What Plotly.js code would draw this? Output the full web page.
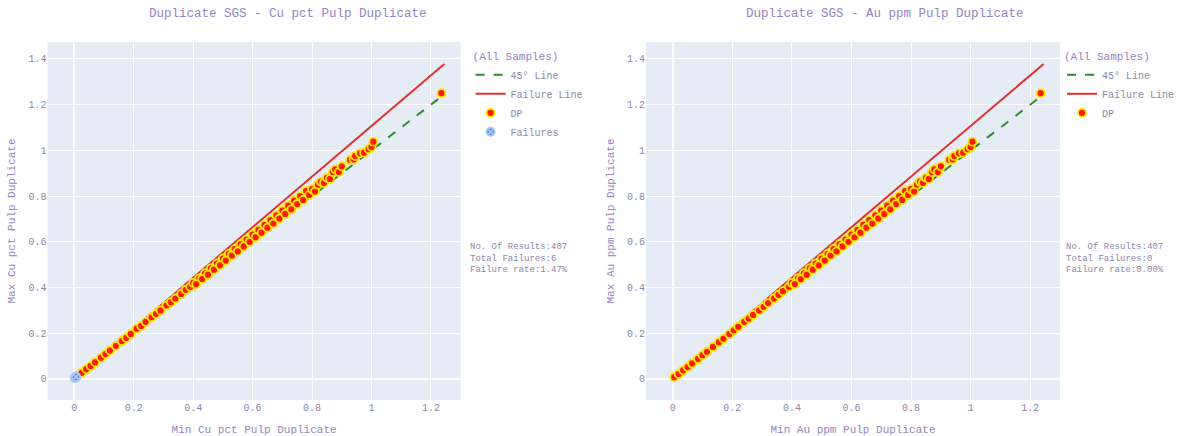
<!DOCTYPE html>
<html>
<head>
<meta charset="utf-8">
<script src="https://cdn.plot.ly/plotly-3.0.1.min.js"></script>
<style>html,body{margin:0;padding:0;background:#fff;}#chart{width:1180px;height:436px;}</style>
</head>
<body>
<div id="chart"></div>
<script>
// ---- Data ----
var cuMin = [0.01,0.025,0.04,0.055,0.07,0.09,0.105,0.12,0.14,0.16,0.175,0.19,0.21,0.225,0.24,0.26,0.275,0.29,0.31,0.325,0.34,0.36,0.375,0.39,
 0.40,0.42,0.44,0.46,0.48,0.50,0.52,0.54,0.56,0.58,0.60,0.62,0.64,0.66,0.68,0.70,0.72,0.74,0.76,0.78,
 0.41,0.43,0.45,0.47,0.49,0.51,0.53,0.55,0.57,0.59,0.61,0.63,0.65,0.67,0.69,0.71,0.73,0.75,0.77,0.79,
 0.80,0.81,0.82,0.83,0.84,0.85,0.86,0.87,0.878,0.89,0.90,0.928,0.94,0.945,0.961,0.975,0.99,1.0,1.006,1.235];
var cuMax = [0.013,0.027,0.043,0.057,0.073,0.093,0.109,0.124,0.145,0.166,0.18,0.197,0.22,0.232,0.25,0.27,0.285,0.3,0.322,0.336,0.352,0.372,0.39,0.403,
 0.42,0.44,0.462,0.484,0.505,0.526,0.547,0.568,0.59,0.61,0.632,0.652,0.674,0.695,0.716,0.737,0.758,0.78,0.80,0.822,
 0.415,0.437,0.456,0.478,0.497,0.518,0.54,0.558,0.58,0.60,0.62,0.64,0.662,0.68,0.702,0.722,0.742,0.765,0.783,0.805,
 0.83,0.82,0.85,0.863,0.858,0.88,0.875,0.905,0.917,0.905,0.93,0.958,0.96,0.975,0.987,0.99,1.005,1.015,1.038,1.25];
var cuFailMin = [0.002,0.003,0.004,0.005,0.002,0.006];
var cuFailMax = [0.005,0.008,0.006,0.01,0.004,0.009];
var auMin = [0.005,0.02,0.035,0.05,0.065,0.085,0.1,0.115,0.135,0.155,0.17,0.19,0.205,0.22,0.24,0.255,0.27,0.29,0.305,0.32,0.34,0.355,0.37,0.39,
 0.40,0.42,0.44,0.46,0.48,0.50,0.52,0.54,0.56,0.58,0.60,0.62,0.64,0.66,0.68,0.70,0.72,0.74,0.76,0.78,
 0.41,0.43,0.45,0.47,0.49,0.51,0.53,0.55,0.57,0.59,0.61,0.63,0.65,0.67,0.69,0.71,0.73,0.75,0.77,0.79,
 0.80,0.81,0.82,0.83,0.84,0.85,0.86,0.87,0.878,0.89,0.90,0.928,0.94,0.945,0.961,0.975,0.99,1.0,1.006,1.235];
var auMax = [0.008,0.022,0.038,0.052,0.068,0.088,0.104,0.119,0.14,0.161,0.176,0.197,0.213,0.228,0.25,0.265,0.28,0.3,0.316,0.332,0.352,0.368,0.384,0.403,
 0.42,0.44,0.462,0.484,0.505,0.526,0.547,0.568,0.59,0.61,0.632,0.652,0.674,0.695,0.716,0.737,0.758,0.78,0.80,0.822,
 0.415,0.437,0.456,0.478,0.497,0.518,0.54,0.558,0.58,0.60,0.62,0.64,0.662,0.68,0.702,0.722,0.742,0.765,0.783,0.805,
 0.83,0.82,0.85,0.863,0.858,0.88,0.875,0.905,0.917,0.905,0.93,0.958,0.96,0.975,0.987,0.99,1.005,1.015,1.038,1.25];
var lineX = [0, 1.245];
var line45Y = [0, 1.245];
var failLineY = [0, 1.378];
var tickVals = [0,0.2,0.4,0.6,0.8,1,1.2,1.4];
var tickText = ['0','0.2','0.4','0.6','0.8','1','1.2','1.4'];
var titles = ['Duplicate SGS - Cu pct Pulp Duplicate','Duplicate SGS - Au ppm Pulp Duplicate'];
var xTitles = ['Min Cu pct Pulp Duplicate','Min Au ppm Pulp Duplicate'];
var yTitles = ['Max Cu pct Pulp Duplicate','Max Au ppm Pulp Duplicate'];
var stats = ['No. Of Results:407<br>Total Failures:6<br>Failure rate:1.47%','No. Of Results:407<br>Total Failures:0<br>Failure rate:0.00%'];

// ---- Styling ----
var FONT = 'Liberation Mono, Courier New, monospace';
var PURPLE = '#9484c4';
var GREY = '#8c86a6';
var W = 1180, H = 436;
function px(x){return x/W;}
function py(y){return 1 - y/H;}

var dpMarker = {color:'#ff1a00', size:8, line:{color:'#ffe600', width:1.8}};
var failMarker = {color:'#3a6fd8', size:8, symbol:'circle-x', line:{color:'#a9c6f2', width:2}};

var traces = [
  {x:lineX, y:line45Y, mode:'lines', name:'45° Line', line:{color:'#2e8b2e', width:2, dash:'dash'}, xaxis:'x', yaxis:'y', legend:'legend'},
  {x:lineX, y:failLineY, mode:'lines', name:'Failure Line', line:{color:'#e0302c', width:2}, xaxis:'x', yaxis:'y', legend:'legend'},
  {x:cuMin, y:cuMax, mode:'markers', name:'DP', marker:dpMarker, xaxis:'x', yaxis:'y', legend:'legend'},
  {x:cuFailMin, y:cuFailMax, mode:'markers', name:'Failures', marker:failMarker, xaxis:'x', yaxis:'y', legend:'legend'},
  {x:lineX, y:line45Y, mode:'lines', name:'45° Line', line:{color:'#2e8b2e', width:2, dash:'dash'}, xaxis:'x2', yaxis:'y2', legend:'legend2'},
  {x:lineX, y:failLineY, mode:'lines', name:'Failure Line', line:{color:'#e0302c', width:2}, xaxis:'x2', yaxis:'y2', legend:'legend2'},
  {x:auMin, y:auMax, mode:'markers', name:'DP', marker:dpMarker, xaxis:'x2', yaxis:'y2', legend:'legend2'}
];

function axisX(dom, anchor, title){
  return {domain:dom, anchor:anchor, range:[-0.09,1.3], tickvals:tickVals.slice(0,7), ticktext:tickText.slice(0,7),
    gridcolor:'#ffffff', zerolinecolor:'#ffffff', zerolinewidth:2, showline:false,
    tickfont:{family:FONT, size:10, color:GREY},
    title:{text:title, font:{family:FONT, size:11, color:PURPLE}, standoff:12}};
}
function axisY(dom, anchor, title){
  return {domain:dom, anchor:anchor, range:[-0.092,1.474], tickvals:tickVals, ticktext:tickText,
    gridcolor:'#ffffff', zerolinecolor:'#ffffff', zerolinewidth:2, showline:false,
    tickfont:{family:FONT, size:10, color:GREY},
    title:{text:title, font:{family:FONT, size:11, color:PURPLE}, standoff:10}};
}
var yDom = [py(400), py(42)];
var legendStyle = function(x){
  return {x:x, y:py(46), xanchor:'left', yanchor:'top', xref:'paper', yref:'paper',
    bgcolor:'rgba(0,0,0,0)', font:{family:FONT, size:10, color:GREY},
    title:{text:'(All Samples)', font:{family:FONT, size:11, color:PURPLE}},
    tracegroupgap:0, itemwidth:30};
};

var layout = {
  width:W, height:H,
  margin:{l:0, r:0, t:0, b:0},
  paper_bgcolor:'#ffffff', plot_bgcolor:'#E5ECF6',
  font:{family:FONT, color:GREY},
  showlegend:true,
  xaxis: axisX([px(48), px(465)], 'y', xTitles[0]),
  yaxis: axisY(yDom, 'x', yTitles[0]),
  xaxis2: axisX([px(652), px(1070)], 'y2', xTitles[1]),
  yaxis2: axisY(yDom, 'x2', yTitles[1]),
  legend: legendStyle(px(475)),
  legend2: legendStyle(px(1072)),
  annotations:[
    {text:titles[0], x:px(291), y:py(14), xref:'paper', yref:'paper', xanchor:'center', yanchor:'middle', showarrow:false, font:{family:FONT, size:12.5, color:PURPLE}},
    {text:titles[1], x:px(893), y:py(14), xref:'paper', yref:'paper', xanchor:'center', yanchor:'middle', showarrow:false, font:{family:FONT, size:12.5, color:PURPLE}},
    {text:stats[0], x:px(472), y:py(258), xref:'paper', yref:'paper', xanchor:'left', yanchor:'middle', align:'left', showarrow:false, font:{family:FONT, size:9, color:GREY}},
    {text:stats[1], x:px(1074), y:py(258), xref:'paper', yref:'paper', xanchor:'left', yanchor:'middle', align:'left', showarrow:false, font:{family:FONT, size:9, color:GREY}}
  ]
};

Plotly.newPlot('chart', traces, layout, {displayModeBar:false, staticPlot:true});
</script>
</body>
</html>
